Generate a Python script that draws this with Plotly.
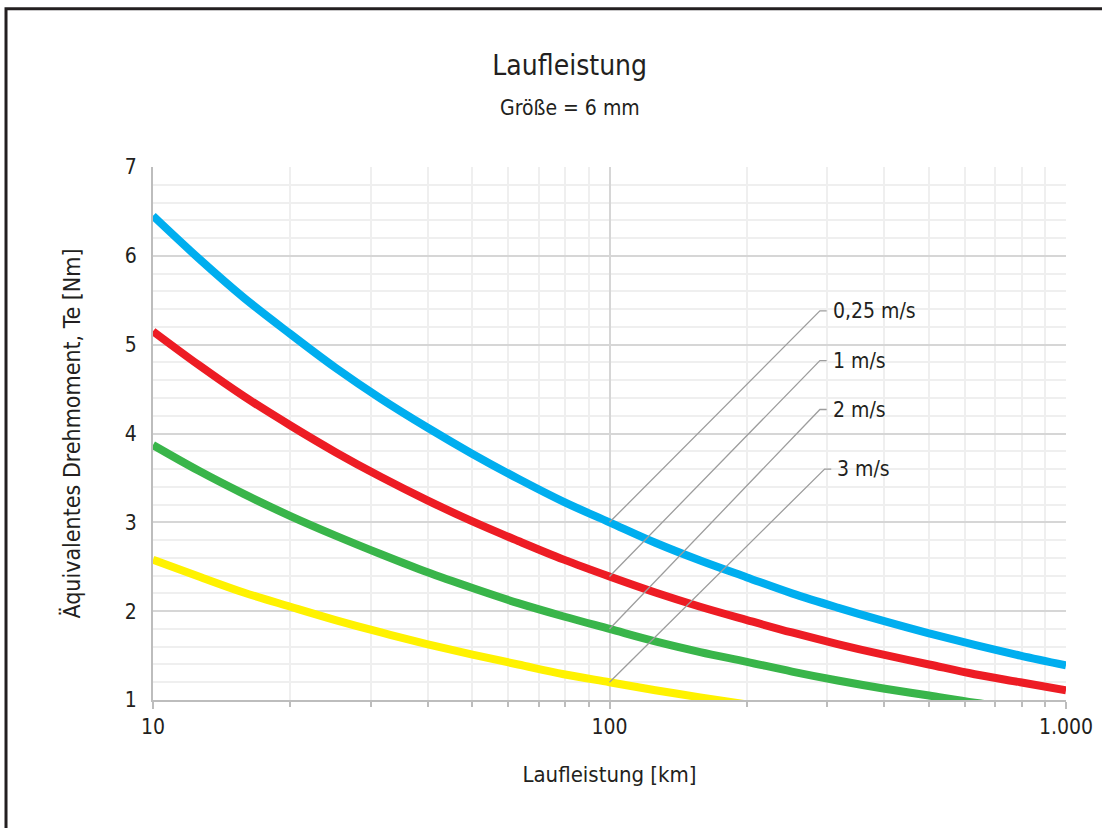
import math
import plotly.graph_objects as go

# Laufleistung [km] and equivalent torque per speed
laufleistung = [10, 12.6, 15.8, 20, 25.1, 31.6, 39.8, 50.1, 63.1, 79.4, 100,
                126, 158, 200, 251, 316, 398, 501, 631, 794, 1000]
te_025 = [6.45, 5.97, 5.53, 5.12, 4.74, 4.39, 4.07, 3.77, 3.49, 3.23, 3.00,
          2.77, 2.57, 2.38, 2.20, 2.04, 1.89, 1.75, 1.62, 1.50, 1.39]
te_1 = [5.15, 4.77, 4.42, 4.09, 3.79, 3.51, 3.25, 3.01, 2.79, 2.58, 2.39,
        2.21, 2.05, 1.90, 1.76, 1.63, 1.51, 1.40, 1.29, 1.20, 1.11]
te_2 = [3.87, 3.58, 3.32, 3.07, 2.85, 2.64, 2.44, 2.26, 2.09, 1.94, 1.80,
        1.66, 1.54, 1.43, 1.32, 1.22, 1.13, 1.05, 0.97, 0.90, 0.83]
te_3 = [2.58, 2.39, 2.21, 2.05, 1.90, 1.76, 1.63, 1.51, 1.40, 1.29, 1.20,
        1.11, 1.03, 0.95, 0.88, 0.82, 0.76, 0.70, 0.65, 0.60, 0.56]

speed_labels = ["0,25 m/s", "1 m/s", "2 m/s", "3 m/s"]
label_y = [5.38, 4.82, 4.27, 3.60]

x_tickvals = [10, 100, 1000]
x_ticktext = ["10", "100", "1.000"]
x_minor = [20, 30, 40, 50, 60, 70, 80, 90, 200, 300, 400, 500, 600, 700, 800, 900]
y_tickvals = [1, 2, 3, 4, 5, 6, 7]

series = [te_025, te_1, te_2, te_3]
colors = ["#00AEEF", "#ED1C24", "#39B54A", "#FFF200"]

TEXT = "#231F20"
FONT = "DejaVu Sans Condensed, Roboto, sans-serif"

fig = go.Figure()

for vals, col, name in zip(series, colors, speed_labels):
    fig.add_trace(go.Scatter(
        x=laufleistung, y=vals, mode="lines", name=name,
        line=dict(color=col, width=8, shape="spline", smoothing=1.0),
        hoverinfo="x+y+name",
    ))

# leader lines from the curves at 100 km to the speed labels
anchor_x = 100
elbow_x = [289, 289, 289, 296]
end_x = [299, 299, 299, 306]
for vals, ly, ex, lx, lab in zip(series, label_y, elbow_x, end_x, speed_labels):
    y0 = vals[laufleistung.index(anchor_x)]
    fig.add_trace(go.Scatter(
        x=[anchor_x, ex, lx], y=[y0, ly, ly], mode="lines",
        line=dict(color="#9D9D9D", width=1.3), hoverinfo="skip", showlegend=False,
    ))
    fig.add_annotation(
        x=math.log10(lx), y=ly, text=lab, showarrow=False,
        xanchor="left", yanchor="middle", xshift=4,
        font=dict(size=21, color=TEXT, family=FONT),
    )

# subtitle below the chart title
fig.add_annotation(
    xref="paper", yref="paper", x=0.457, y=1.111, text="Größe = 6 mm",
    showarrow=False, xanchor="center", yanchor="middle",
    font=dict(size=21, color=TEXT, family=FONT),
)

fig.update_layout(
    width=1102, height=828,
    margin=dict(l=153, r=36, t=167, b=128),
    paper_bgcolor="white", plot_bgcolor="white",
    showlegend=False,
    font=dict(family=FONT, color=TEXT, size=20),
    title=dict(
        text="Laufleistung",
        x=0.517, xanchor="center", y=0.9215, yanchor="middle",
        font=dict(size=28, color=TEXT, family=FONT),
    ),
    xaxis=dict(
        type="log", range=[1, 3], automargin=False,
        tickvals=x_tickvals, ticktext=x_ticktext,
        showgrid=True, gridcolor="#D6D6D6", gridwidth=1.5,
        ticks="outside", ticklen=7, tickcolor="#BDBDBD", tickwidth=1.5,
        showline=True, linecolor="#BDBDBD", linewidth=2,
        minor=dict(tickvals=x_minor, showgrid=True, gridcolor="#EFEFEF", gridwidth=1.5,
                   ticks="outside", ticklen=5, tickcolor="#BDBDBD", tickwidth=1.5),
        tickfont=dict(size=21, color=TEXT),
        title=dict(text="Laufleistung [km]", font=dict(size=22, color=TEXT), standoff=28),
        zeroline=False,
    ),
    yaxis=dict(
        range=[1, 7], tickvals=y_tickvals, automargin=False,
        showgrid=True, gridcolor="#D6D6D6", gridwidth=1.5,
        showline=True, linecolor="#BDBDBD", linewidth=2,
        minor=dict(dtick=0.2, showgrid=True, gridcolor="#EFEFEF", gridwidth=1.5),
        tickfont=dict(size=21, color=TEXT),
        ticklabelstandoff=10,
        title=dict(text="Äquivalentes Drehmoment, Te [Nm]", font=dict(size=23, color=TEXT), standoff=38),
        zeroline=False,
    ),
    shapes=[dict(
        type="rect", xref="paper", yref="paper",
        x0=-0.161, x1=1.1, y0=-0.3, y1=1.297,
        line=dict(color="#231F20", width=3), fillcolor="rgba(0,0,0,0)", layer="below",
    )],
)

fig.write_html("out.html")
